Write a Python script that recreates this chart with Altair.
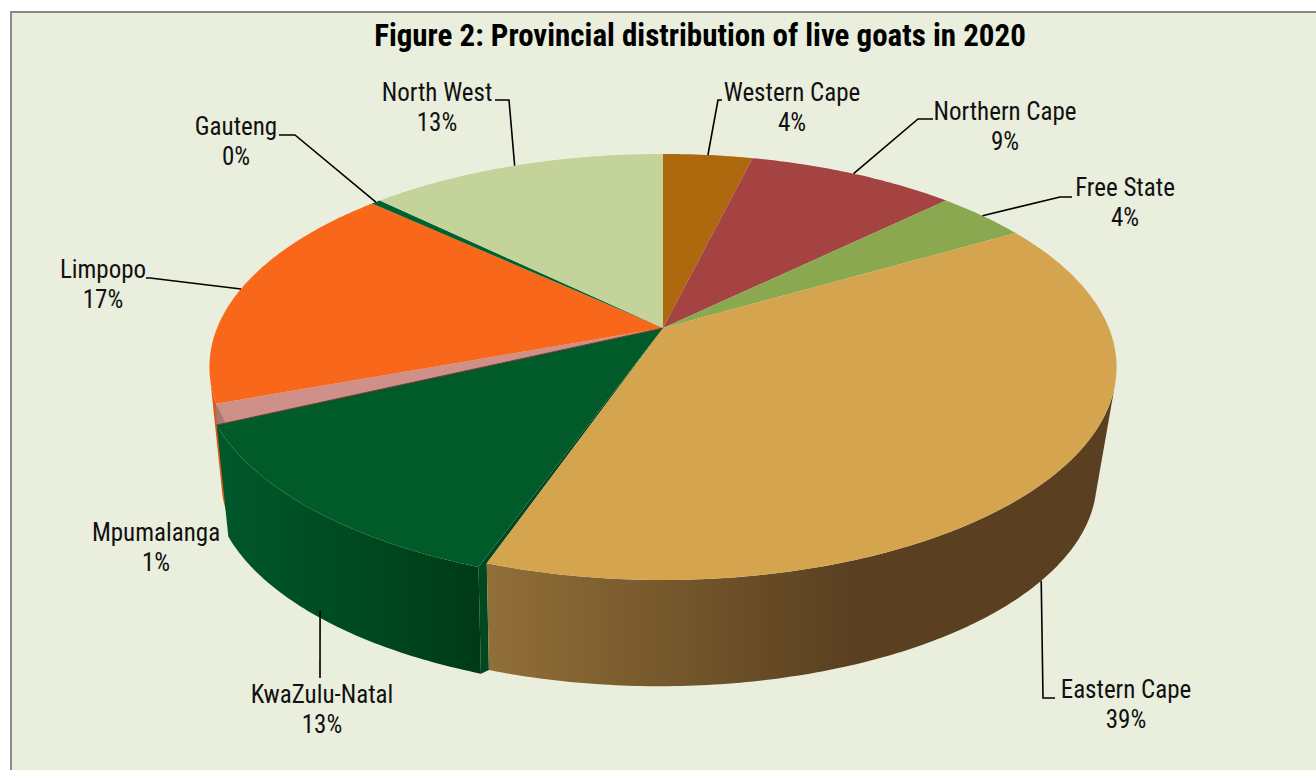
import math
import altair as alt

# Provincial shares of live goats, clockwise from twelve o'clock
PROVINCES = ["Western Cape", "Northern Cape", "Free State", "Eastern Cape", "KwaZulu-Natal",
             "Mpumalanga", "Limpopo", "Gauteng", "North West"]
SHARES = [3.8, 8.9, 3.9, 38.7, 12.7, 1.4, 17.49, 0.4, 12.71]
TOP_COLOURS = ["#ae690e", "#a54343", "#8aa84f", "#d5a44f", "#005b28",
               "#cf9089", "#f8671a", "#00602e", "#c3d399"]

# Layout of the tilted disc
CX, CY = 663.0, 328.0
RADIUS, NEAR_A, TILT = 445.9, 205.9, -0.183
BASE_SCALE, BASE_DROP, BASE_SHIFT = 0.965, 115.0, -4.0
KZN_GROW = 1.02      # the KwaZulu-Natal wedge sits slightly proud of the disc
KZN_FACE_SHARE = 0.15
RIGHT_TANGENT, LEFT_TANGENT = 29.0, 71.0
FONT = "Roboto Condensed, Roboto"

# Label placement: centre x, first-line y, elbow points, rim the leader touches
LABEL_LAYOUT = {
    "Western Cape": (792, 93, [(718, 100), (722, 100)], "top"),
    "Northern Cape": (1005, 112, [(918, 119), (933, 119)], "top"),
    "Free State": (1125, 188, [(1060, 197), (1072, 197)], "top"),
    "Eastern Cape": (1126, 690, [(1043, 698), (1055, 698)], "base"),
    "KwaZulu-Natal": (322, 695, [(320, 678)], "base"),
    "Mpumalanga": (156, 533, [], "top"),
    "Limpopo": (103, 270, [(150, 278), (146, 278)], "top"),
    "Gauteng": (236, 127, [(295, 135), (279, 135)], "top"),
    "North West": (437, 93, [(509, 100), (495, 100)], "top"),
}
# Where a leader meets its wedge, relative to the wedge's middle, in percent of the circle
LEADER_NUDGE = {"KwaZulu-Natal": 0.3, "Eastern Cape": -0.4}


def rim(share, level="top", grow=1.0):
    """Point on the disc's edge at a cumulative share of the total."""
    t = math.radians(share * 3.6)
    u, v = math.sin(t), -math.cos(t)
    d = 1 + TILT * v
    x, y = grow * RADIUS * u / d, grow * NEAR_A * v / d
    if level == "base":
        return [CX + BASE_SHIFT + BASE_SCALE * x, CY + BASE_SCALE * y + BASE_DROP]
    return [CX + x, CY + y]


def arc_points(a, b, level="top", grow=1.0):
    n = max(2, int((b - a) / 0.2) + 1)
    return [rim(a + (b - a) * i / n, level, grow) for i in range(n + 1)]


def feature(points, colour):
    ring = points + [points[0]]
    return {"type": "Feature", "properties": {"colour": colour},
            "geometry": {"type": "Polygon", "coordinates": [ring]}}


def side(a, b, colour="#000000", grow=1.0):
    return feature(arc_points(a, b, "top", grow) + arc_points(a, b, "base", grow)[::-1], colour)


total = sum(SHARES)
norm = [s * 100 / total for s in SHARES]
starts = [sum(norm[:i]) for i in range(len(norm))]
ends = [s + n for s, n in zip(starts, norm)]
span = dict(zip(PROVINCES, zip(starts, ends)))

ec0, ec1 = span["Eastern Cape"]
kz0, kz1 = span["KwaZulu-Natal"]
mp0, mp1 = span["Mpumalanga"]
li0, li1 = span["Limpopo"]

tops = []
for name, (a, b), colour in zip(PROVINCES, zip(starts, ends), TOP_COLOURS):
    if name == "KwaZulu-Natal":
        tops.append(feature([[CX, CY]] + arc_points(a + KZN_FACE_SHARE, b, "top", KZN_GROW), colour))
    else:
        tops.append(feature([[CX, CY]] + arc_points(a, b), colour))

projection = alt.Projection(type="identity", scale=1, translate=[0, 0])
x_scale = alt.Scale(domain=[0, 1316], range=[0, 1316])
y_scale = alt.Scale(domain=[0, 770], range=[0, 770])
X = alt.X("x:Q", scale=x_scale, axis=None)
Y = alt.Y("y:Q", scale=y_scale, axis=None)


def shapes(features):
    return alt.Chart(alt.Data(values=features)).mark_geoshape(strokeWidth=0).encode(
        fill=alt.Fill("properties.colour:N", scale=None)
    ).project(**projection.to_dict())


def gradient_side(a, b, stops, grow=1.0):
    fill = alt.LinearGradient(
        gradient="linear", x1=0, x2=1, y1=0, y2=0,
        stops=[alt.GradientStop(offset=o, color=c) for o, c in stops],
    )
    return alt.Chart(alt.Data(values=[side(a, b, grow=grow)])).mark_geoshape(
        fill=fill, strokeWidth=0
    ).project(**projection.to_dict())


panel = alt.Chart(alt.Data(values=[{"x": 11, "x2": 1330, "y": 12, "y2": 790}])).mark_rect(
    fill="#eaeedd", stroke="#8a8a8a", strokeWidth=2
).encode(x=X, x2="x2:Q", y=Y, y2="y2:Q")

# The outer walls start at the disc's tangent points so the silhouette stays straight
limpopo_side = shapes([side(li0, LEFT_TANGENT, "#d85a18")])
kzn_side = gradient_side(kz0 + KZN_FACE_SHARE, kz1, [(0, "#00582b"), (0.45, "#004c22"), (1, "#003a17")], KZN_GROW)

# Cut face exposed between KwaZulu-Natal and the Eastern Cape wedge
kz_edge = kz0 + KZN_FACE_SHARE
face = shapes([feature(
    [[CX, CY], rim(kz_edge, "top", KZN_GROW), rim(kz_edge, "base", KZN_GROW), rim(ec1, "base"), rim(ec1)],
    "#00481f",
)])
# The gradient runs from the cut edge on the left towards the right-hand tangent
ec_side = gradient_side(RIGHT_TANGENT, ec1, [(0, "#916f38"), (0.58, "#5a4020"), (1, "#5a4020")])
top_faces = shapes(tops)

# Small wall visible where Mpumalanga meets the Limpopo wedge, and its shaded seam
mp_in = rim(mp0, "top", KZN_GROW)
mp_wall = shapes([feature([rim(mp1), mp_in, rim(mp0)], "#a87873")])
seam = alt.Chart(alt.Data(values=[
    {"i": 0, "x": CX, "y": CY}, {"i": 1, "x": mp_in[0], "y": mp_in[1]},
])).mark_line(color="#6e3a34", strokeWidth=1).encode(x=X, y=Y, order="i:Q")

# Leader lines run from each wedge's rim to the elbow beside its label
leader_rows, label_rows = [], []
for name, value in zip(PROVINCES, SHARES):
    cx, y0, elbow, level = LABEL_LAYOUT[name]
    a, b = span[name]
    if elbow:
        path = [rim((a + b) / 2 + LEADER_NUDGE.get(name, 0), level)] + [list(p) for p in elbow]
        for i, (x, y) in enumerate(path):
            leader_rows.append({"name": name, "i": i, "x": x, "y": y})
    label_rows.append({"x": cx, "y": y0, "text": name})
    label_rows.append({"x": cx, "y": y0 + 30, "text": f"{round(value)}%"})

leaders = alt.Chart(alt.Data(values=leader_rows)).mark_line(color="#000000", strokeWidth=1.6).encode(
    x=X, y=Y, detail="name:N", order="i:Q"
)
labels = alt.Chart(alt.Data(values=label_rows)).mark_text(
    font=FONT, fontSize=25, color="#111111", align="center", baseline="middle"
).encode(x=X, y=Y, text="text:N")
title = alt.Chart(alt.Data(values=[{"x": 700, "y": 37, "text": "Figure 2: Provincial distribution of live goats in 2020"}])).mark_text(
    font=FONT, fontSize=31, fontWeight="bold", color="#000000", align="center", baseline="middle"
).encode(x=X, y=Y, text="text:N")

chart = alt.layer(
    panel, limpopo_side, kzn_side, face, ec_side, top_faces, mp_wall, seam, leaders, labels, title
).properties(
    width=1316, height=770, padding=0, background="#ffffff",
    autosize=alt.AutoSizeParams(type="none"),
).configure_view(stroke=None)

chart.save("out.html", embed_options={"renderer": "svg", "actions": False})
